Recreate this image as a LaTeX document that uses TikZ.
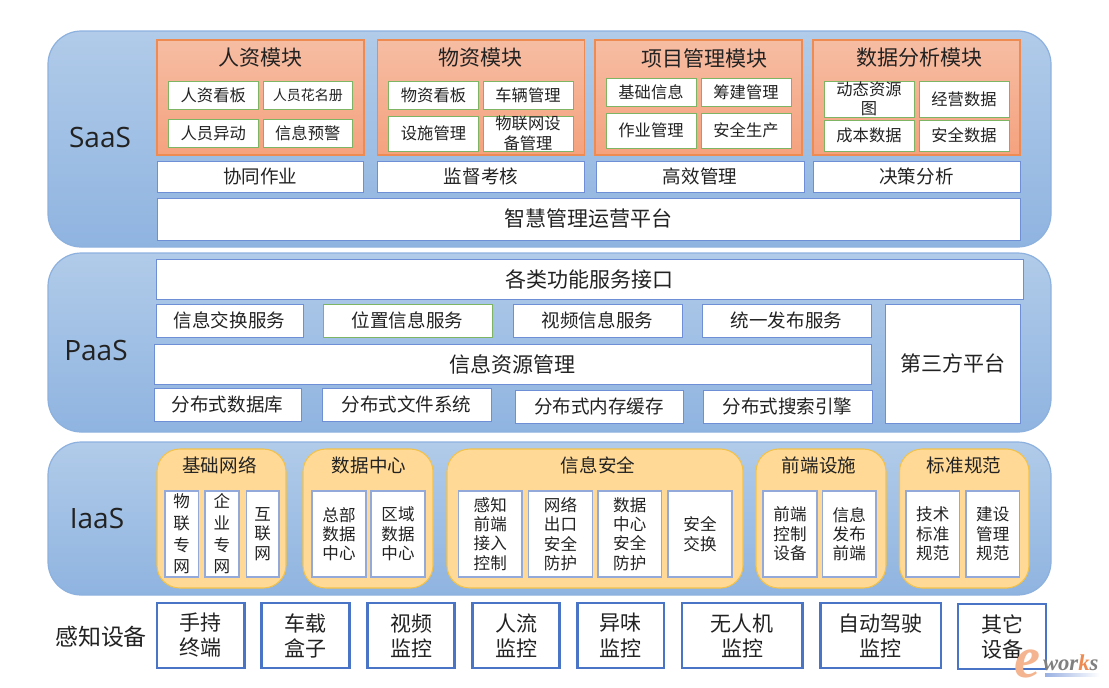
\documentclass[tikz,border=0pt]{standalone}
\usepackage{fontspec}
\setmainfont{Noto Sans CJK SC}
\newfontfamily\latinf{Open Sans}
\newfontfamily\wmf{Liberation Serif}
\definecolor{txt}{HTML}{222222}
\definecolor{panT}{HTML}{B1CBE9}
\definecolor{panB}{HTML}{8FB4E0}
\definecolor{panL}{HTML}{8DB1DF}
\definecolor{orT}{HTML}{F6BDA3}
\definecolor{orB}{HTML}{F5A27E}
\definecolor{orL}{HTML}{EE8B52}
\definecolor{grpF}{HTML}{FFD995}
\definecolor{grpL}{HTML}{F3C24A}
\definecolor{grnL}{HTML}{7DB565}
\definecolor{bluL}{HTML}{6E8FD6}
\definecolor{iasL}{HTML}{92A9D9}
\definecolor{senL}{HTML}{4A74C6}
\newcommand\bx[7]{\node[#2,minimum width={(#5-#3)*0.75pt},minimum height={(#6-#4)*0.75pt}] (#1) at ({(#3+#5)/2},{(#4+#6)/2}) {#7};}
\tikzset{
  x=0.75pt,y=-0.75pt,
  every node/.style={inner sep=0pt,outer sep=0pt,align=center,text=txt},
  fs/.style 2 args={font=\fontsize{#1}{#2}\selectfont},
  panel/.style={draw=panL,line width=0.9pt,top color=panT,bottom color=panB,rounded corners=25pt},
  orbox/.style={draw=orL,line width=0.8pt,top color=orT,bottom color=orB},
  grp/.style={draw=grpL,line width=0.8pt,fill=grpF,rounded corners=17pt},
  gbox/.style={draw=grnL,line width=0.7pt,fill=white,fs={12.2}{14.6}},
  bbox/.style={draw=bluL,line width=0.7pt,fill=white,fs={13.9}{16}},
  wide/.style={draw=bluL,line width=0.7pt,fill=white,fs={15.75}{18}},
  ibox/.style={draw=iasL,line width=0.8pt,fill=white,fs={12.4}{14.5}},
  sbox/.style={draw=senL,line width=1.9pt,fill=white,fs={15.75}{18.8}},
  modt/.style={fs={15.75}{18}},
  grpt/.style={fs={13.9}{16}},
  layert/.style={font=\latinf\fontsize{21}{24}\selectfont},
}
\begin{document}
\begin{tikzpicture}
\useasboundingbox (0,0) rectangle (1109,687);
% panels
\bx{saas}{panel}{48}{31}{1051}{247}{}
\bx{paas}{panel}{48}{253}{1051}{432}{}
\bx{iaas}{panel}{48}{442}{1051}{595}{}
\node[layert] (lsaas) at (100,137) {SaaS};
\node[layert] (lpaas) at (96,350) {PaaS};
\node[layert] (liaas) at (97,518) {IaaS};
\node[fs={17.2}{20}] (lsens) at (101,637) {感知设备};
% SaaS modules
\bx{m1}{orbox}{157}{40}{364}{155}{}
\bx{m2}{orbox}{377.5}{40}{584.5}{155}{}
\bx{m3}{orbox}{595}{40}{802}{155}{}
\bx{m4}{orbox}{813}{40}{1020}{155}{}
\node[modt] (t1) at (260,58) {人资模块};
\node[modt] (t2) at (480,58) {物资模块};
\node[modt] (t3) at (704,58) {项目管理模块};
\node[modt] (t4) at (919.5,58) {数据分析模块};
\bx{a1}{gbox}{168}{81}{258.5}{109}{人资看板}
\bx{a2}{gbox,fs={10.5}{12}}{263}{81}{352.5}{109}{人员花名册}
\bx{a3}{gbox}{168}{119}{258.5}{147}{人员异动}
\bx{a4}{gbox}{263}{119}{352.5}{147}{信息预警}
\bx{b1}{gbox}{388.5}{81}{478.5}{109}{物资看板}
\bx{b2}{gbox}{483}{81}{573}{109}{车辆管理}
\bx{b3}{gbox}{388.5}{116}{478.5}{151}{设施管理}
\bx{b4}{gbox}{483}{116}{573}{151}{物联网设\\备管理}
\bx{c1}{gbox}{606}{78}{696}{106}{基础信息}
\bx{c2}{gbox}{701}{78}{791}{106}{筹建管理}
\bx{c3}{gbox}{606}{113}{696}{148}{作业管理}
\bx{c4}{gbox}{701}{113}{791}{148}{安全生产}
\bx{d1}{gbox}{824}{81}{914}{117}{动态资源\\图}
\bx{d2}{gbox}{919}{81}{1009}{117}{经营数据}
\bx{d3}{gbox}{824}{120}{914}{151}{成本数据}
\bx{d4}{gbox}{919}{120}{1009}{151}{安全数据}
\bx{e1}{bbox}{157}{161}{363.5}{192}{协同作业}
\bx{e2}{bbox}{377.5}{161}{584.5}{192}{监督考核}
\bx{e3}{bbox}{596}{161}{804}{192}{高效管理}
\bx{e4}{bbox}{813}{161}{1020}{192}{决策分析}
\bx{plat}{wide}{157}{198}{1020}{240}{智慧管理运营平台}
% PaaS
\bx{api}{wide}{156}{259}{1023}{299}{各类功能服务接口}
\bx{p1}{bbox}{156}{304}{303}{337}{信息交换服务}
\bx{p2}{bbox,draw=grnL}{323}{304}{492}{337}{位置信息服务}
\bx{p3}{bbox}{513}{304}{682}{337}{视频信息服务}
\bx{p4}{bbox}{702}{304}{871}{337}{统一发布服务}
\bx{third}{wide}{885}{304}{1020}{423}{第三方平台}
\bx{res}{wide}{154}{344}{871}{384}{信息资源管理}
\bx{q1}{bbox}{154}{388}{301}{421}{分布式数据库}
\bx{q2}{bbox}{322}{388}{491}{421}{分布式文件系统}
\bx{q3}{bbox}{515}{390}{683}{423}{分布式内存缓存}
\bx{q4}{bbox}{703}{390}{872}{423}{分布式搜索引擎}
% IaaS groups
\bx{g1}{grp}{157}{449}{286}{588}{}
\bx{g2}{grp}{303}{449}{433}{588}{}
\bx{g3}{grp}{447}{449}{743}{588}{}
\bx{g4}{grp}{756}{449}{886}{588}{}
\bx{g5}{grp}{899.5}{449}{1029}{588}{}
\node[grpt] (gt1) at (219.5,465) {基础网络};
\node[grpt] (gt2) at (369,465) {数据中心};
\node[grpt] (gt3) at (598,465) {信息安全};
\node[grpt] (gt4) at (819,465) {前端设施};
\node[grpt] (gt5) at (964,465) {标准规范};
\bx{h1}{ibox,fs={12.4}{16.2}}{165}{491}{198.5}{577}{物\\联\\专\\网}
\bx{h2}{ibox,fs={12.4}{16.2}}{205}{491}{239}{577}{企\\业\\专\\网}
\bx{h3}{ibox,fs={12.4}{14.8}}{246.5}{491}{279}{577}{互\\联\\网}
\bx{h4}{ibox}{312}{491}{366}{577}{总部\\数据\\中心}
\bx{h5}{ibox}{371}{491}{425}{577}{区域\\数据\\中心}
\bx{h6}{ibox}{458.5}{491}{522}{577}{感知\\前端\\接入\\控制}
\bx{h7}{ibox}{528.5}{491}{592.5}{577}{网络\\出口\\安全\\防护}
\bx{h8}{ibox}{598}{491}{661.5}{577}{数据\\中心\\安全\\防护}
\bx{h9}{ibox}{668}{491}{732}{577}{安全\\交换}
\bx{h10}{ibox}{763}{491}{817}{577}{前端\\控制\\设备}
\bx{h11}{ibox}{822.5}{491}{876}{577}{信息\\发布\\前端}
\bx{h12}{ibox}{906}{491}{959.5}{577}{技术\\标准\\规范}
\bx{h13}{ibox}{966}{491}{1019.5}{577}{建设\\管理\\规范}
% sensors
\bx{s1}{sbox}{157}{603}{244.5}{668}{手持\\终端}
\bx{s2}{sbox}{261.5}{603}{349.5}{668}{车载\\盒子}
\bx{s3}{sbox}{367.5}{603}{454.5}{668}{视频\\监控}
\bx{s4}{sbox}{472.5}{603}{559.5}{668}{人流\\监控}
\bx{s5}{sbox}{577.5}{603}{664}{668}{异味\\监控}
\bx{s6}{sbox}{682}{603}{802.5}{668}{无人机\\监控}
\bx{s7}{sbox}{820.5}{603}{941}{668}{自动驾驶\\监控}
\bx{s8}{sbox}{958}{604}{1046}{669}{其它\\设备}
% watermark
\bx{wms}{left color=bluL!70,right color=white,draw=none}{1045}{673}{1100}{676}{}
\node[font=\wmf\bfseries\itshape\fontsize{44}{44}\selectfont,text=orL!65,anchor=base] (wme) at (1028,677) {e};
\node[font=\wmf\bfseries\itshape\fontsize{17}{17}\selectfont,text=gray,anchor=base west] (wmw) at (1043,670) {wor\textcolor{orL}{k}s};
\end{tikzpicture}
\end{document}
